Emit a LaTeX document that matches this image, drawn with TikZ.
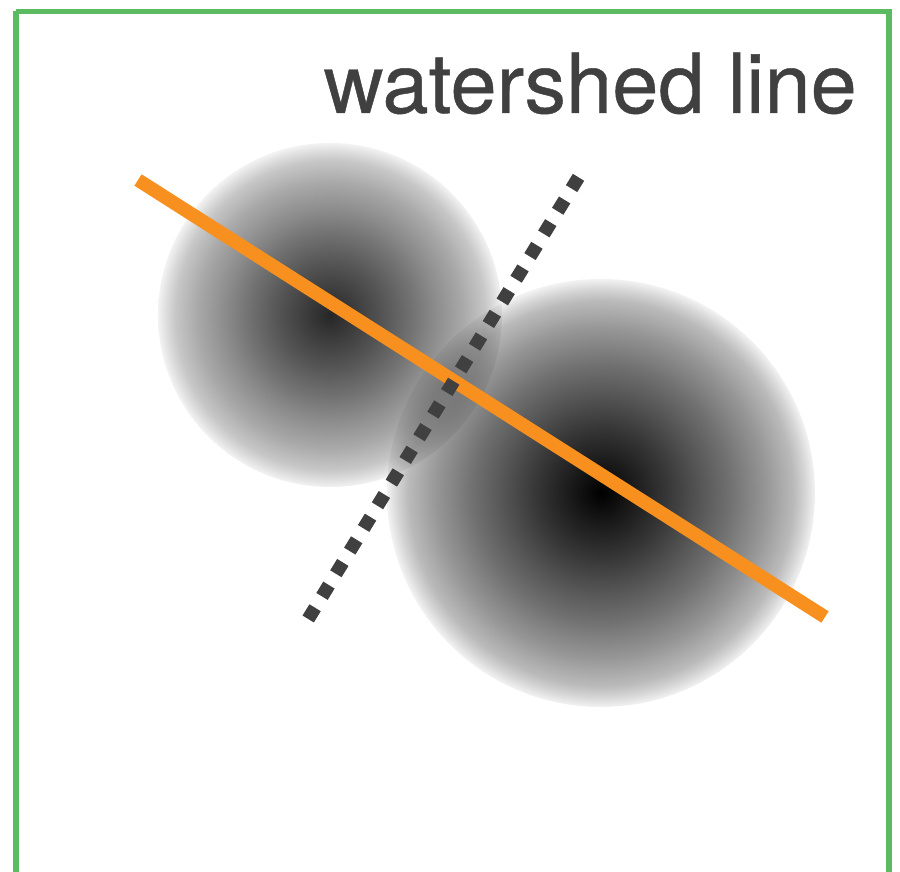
\documentclass[tikz,border=0pt]{standalone}
\usepackage{fontspec}
\setmainfont{TeX Gyre Heros}
\newfontfamily\capfont[FakeBold=0.5]{TeX Gyre Heros}
\definecolor{framegreen}{RGB}{92,186,96}
\definecolor{ridgeorange}{RGB}{247,144,30}
\definecolor{textgray}{RGB}{64,64,64}
\pgfdeclareradialshading{blobLR}{\pgfpoint{0bp}{0bp}}{color(0bp)=(black!100); color(2.5bp)=(black!93); color(5bp)=(black!86); color(7.5bp)=(black!79); color(12bp)=(black!65); color(15bp)=(black!56); color(19.25bp)=(black!41); color(22.5bp)=(black!27); color(23.75bp)=(black!17); color(25bp)=(black!5); color(50bp)=(black!5)}
\pgfdeclareradialshading{blobUL}{\pgfpoint{0bp}{0bp}}{color(0bp)=(black!85); color(2.5bp)=(black!79); color(5bp)=(black!73); color(7.5bp)=(black!67); color(12bp)=(black!55); color(15bp)=(black!46); color(19.25bp)=(black!34); color(22.5bp)=(black!22); color(23.75bp)=(black!14); color(25bp)=(black!5); color(50bp)=(black!5)}
\tikzset{
  ridge/.style={draw=ridgeorange, line width=13.5pt, line cap=butt},
  divide/.style={draw=textgray, line width=13.3pt, dash pattern=on 13.28pt off 13.28pt, line cap=butt},
  frame/.style={draw=framegreen, line width=5.5pt},
  caption/.style={text=textgray, inner sep=0pt, font=\capfont\fontsize{83}{83}\selectfont}
}
\begin{document}
\begin{tikzpicture}[x=1pt,y=-1pt]
\useasboundingbox (0,0) rectangle (900,872);
\fill[white] (0,0) rectangle (900,872);
% blobs
\begin{scope}[blend group=multiply]
  \shade[shading=blobUL] (330,315) circle (172);
  \shade[shading=blobLR] (601,493) circle (214);
\end{scope}
% lines
\coordinate (r1) at (138,180);
\coordinate (r2) at (825,617);
\coordinate (d1) at (578.5,177.3);
\coordinate (d2) at (308.2,619.0);
\draw[ridge] (r1) -- (r2);
\draw[divide] (d1) -- (d2);
% label
\node[caption, anchor=base east] (lbl) at (857,113) {watershed line};
% frame
\draw[frame] (16,11.5) -- (16,900) (16,11.5) -- (889,11.5) -- (889,900);
\end{tikzpicture}
\end{document}
